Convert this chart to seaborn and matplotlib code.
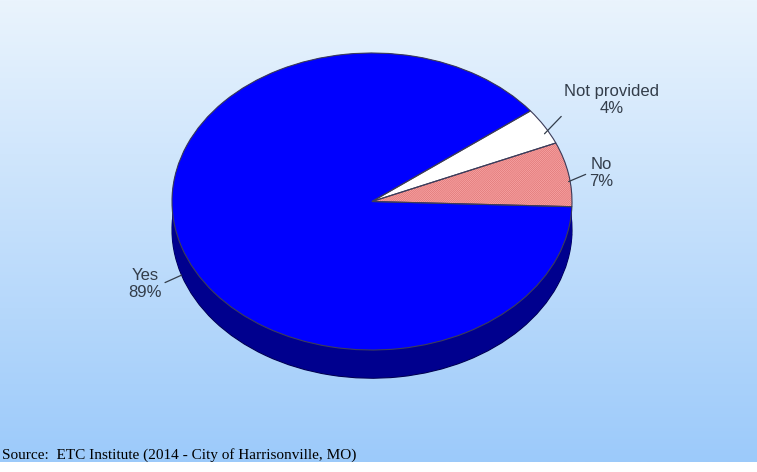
import numpy as np
import matplotlib.pyplot as plt
import seaborn as sns
from matplotlib.colors import LinearSegmentedColormap

# survey answers (percent)
answers = ["No", "Not provided", "Yes"]
shares = [7, 4, 89]
label_text = ["No\n7%", "Not provided\n4%", "Yes\n89%"]
top_colors = ["#f9a6a6", "#ffffff", "#0000ff"]
side_colors = ["#b86060", "#b8b8b8", "#00008e"]
source = "Source:  ETC Institute (2014 - City of Harrisonville, MO)"

sns.set_theme(style="white")
plt.rcParams["font.family"] = ["Liberation Sans", "DejaVu Sans"]
plt.rcParams["hatch.linewidth"] = 0.45

fig = plt.figure(figsize=(7.57, 4.72), dpi=100)
fig.patch.set_facecolor("white")

# gradient background
bg = fig.add_axes([0, 10 / 472, 1, 462 / 472])
grad = np.linspace(0, 1, 256).reshape(-1, 1)
cmap = LinearSegmentedColormap.from_list("bg", ["#eaf4fd", "#9ccafa"])
bg.imshow(grad, aspect="auto", cmap=cmap, extent=[0, 1, 0, 1], origin="upper")
bg.axis("off")

ax = fig.add_axes([0, 0, 1, 1])
ax.patch.set_alpha(0)

start = -2

# side of the "3d" pie: stack of darker pies
depth = 0.19
for i, off in enumerate(np.linspace(depth, 0, 40)):
    ax.pie(shares, colors=side_colors, center=(0, -off), startangle=start,
           wedgeprops=dict(linewidth=0.8 if i == 0 else 0,
                           edgecolor="#000050"))

# top face
wedges, _ = ax.pie(shares, colors=top_colors, startangle=start,
                   wedgeprops=dict(linewidth=0))
wedges[0].set_edgecolor("#dc7070")
wedges[0].set_linewidth(0)
wedges[0].set_hatch("/" * 16)

# outlines
ax.pie(shares, colors=["none"] * 3, startangle=start,
       wedgeprops=dict(edgecolor="#3c3c5a", linewidth=0.8, fill=False))

# labels with leader lines
text_pos = [(1.145, 0.192), (1.2, 0.683), (-1.135, -0.556)]
rel = [(0, 0.5), (0, 0.1), (1, 0.5)]
edges = np.cumsum([0] + shares) * 3.6 + start
mids = np.deg2rad((edges[:-1] + edges[1:]) / 2)
for txt, pos, rp, a in zip(label_text, text_pos, rel, mids):
    x, y = np.cos(a), np.sin(a)
    y = y - depth if y < 0 else y - 0.05
    ax.annotate(txt, xy=(x, y), xytext=pos, ha="center", va="center",
                fontsize=12, color="#333d4a", multialignment="center",
                arrowprops=dict(arrowstyle="-", color="#333d4a", lw=0.9,
                                relpos=rp, shrinkA=0, shrinkB=0))

ax.set_aspect("auto")
ax.set_xlim(-1.86, 1.925)
ax.set_ylim(-1.8215, 1.3569)
ax.axis("off")

fig.text(0.003, (472 - 455) / 472, source, fontsize=11, va="center",
         family=["Liberation Serif", "DejaVu Serif"], color="black")

fig.savefig("out.png", dpi=100)
